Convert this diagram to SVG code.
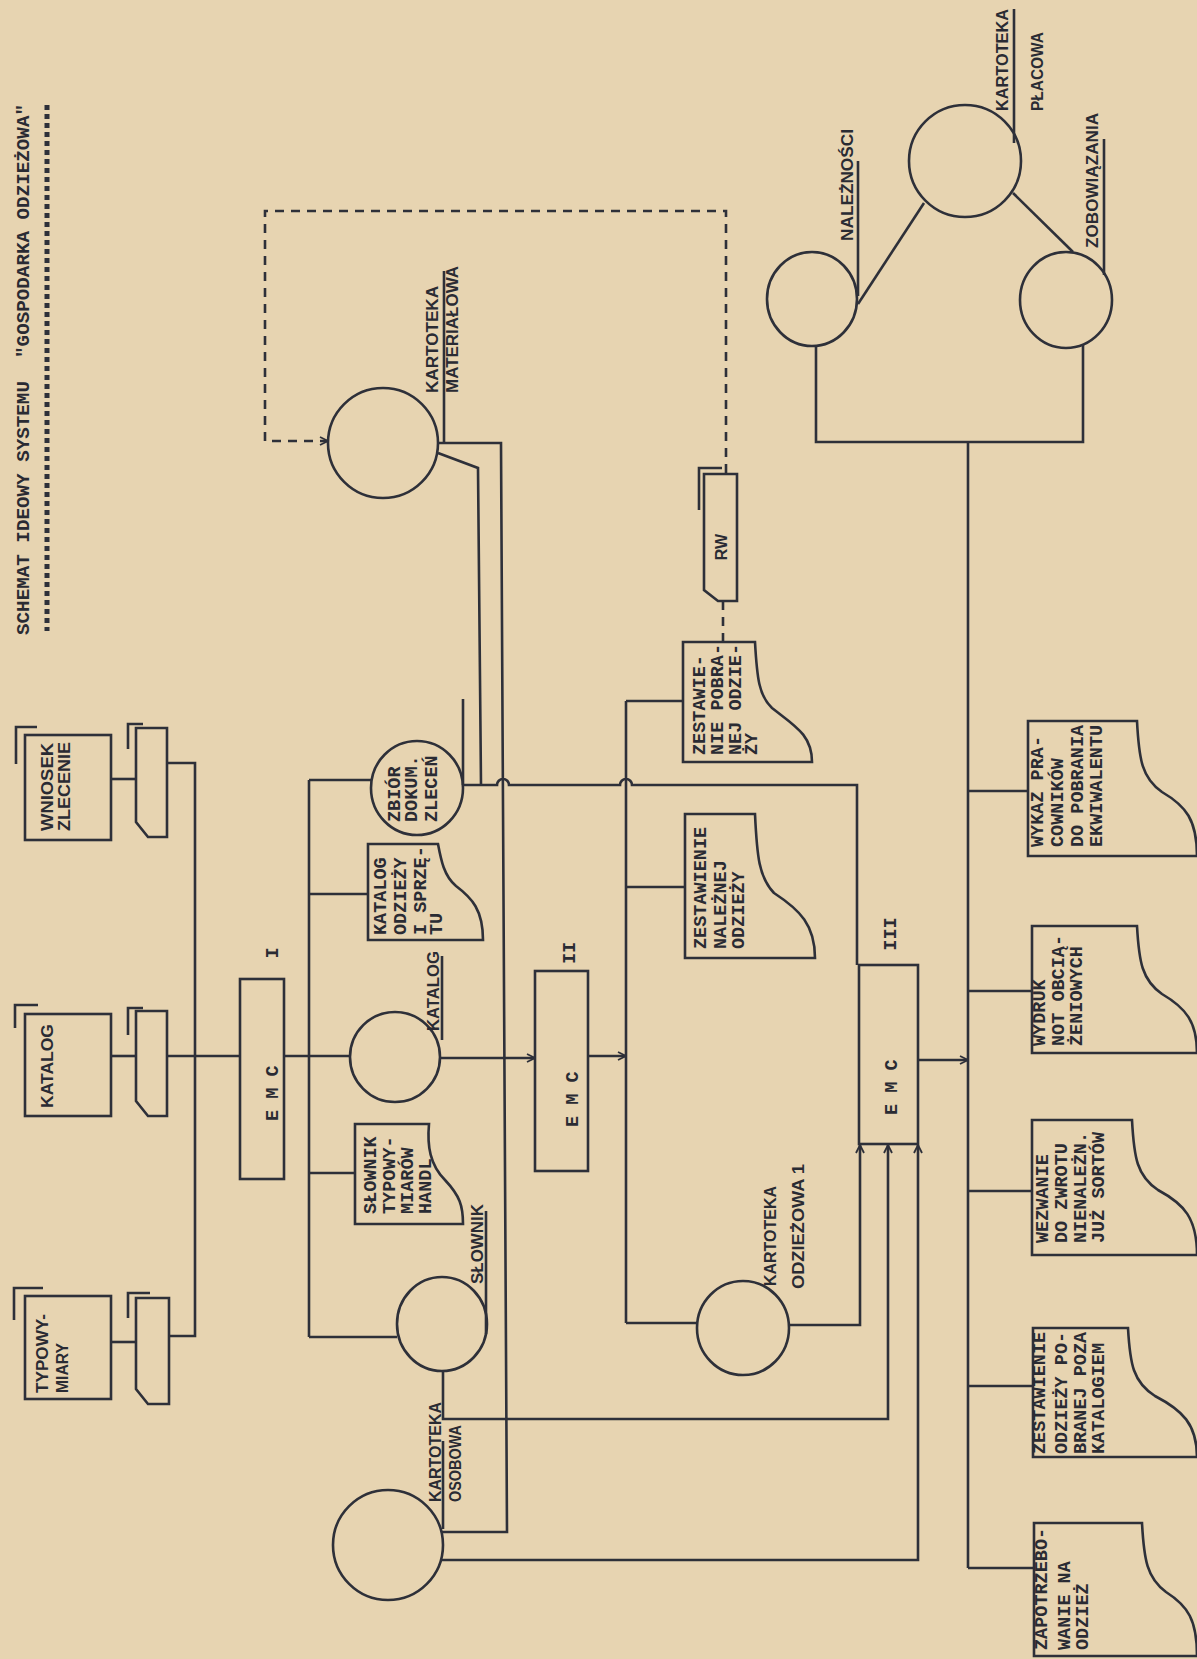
<svg xmlns="http://www.w3.org/2000/svg" width="1197" height="1659" viewBox="0 0 1197 1659">
<style>
.ln{fill:none;stroke:#2e3039;stroke-width:2.6;stroke-linejoin:miter}
.sh{fill:none;stroke:#2e3039;stroke-width:2.6}
.dash{fill:none;stroke:#2e3039;stroke-width:2.6;stroke-dasharray:9 7}
.t{font-family:"Liberation Mono","DejaVu Sans Mono",monospace;font-weight:bold;font-size:18.5px;fill:#2a2b33}
.s{font-family:"Liberation Sans",Arial,sans-serif;font-weight:bold;font-size:16px;fill:#2a2b33}
</style>
<defs>
<marker id="arr" viewBox="0 0 10 10" refX="9" refY="5" markerWidth="10" markerHeight="10" markerUnits="userSpaceOnUse" orient="auto">
<path d="M1,1 L9,5 L1,9" fill="none" stroke="#2e3039" stroke-width="1.8"/>
</marker>
</defs>
<rect width="1197" height="1659" fill="#e7d4b1"/>

<g id="title">
<text class="t" font-size="19" transform="translate(29,635) rotate(-90)" textLength="531" lengthAdjust="spacingAndGlyphs" xml:space="preserve">SCHEMAT IDEOWY SYSTEMU  "GOSPODARKA ODZIEŻOWA"</text>
<line x1="47" y1="105" x2="47" y2="631" stroke="#2e3039" stroke-width="5" stroke-dasharray="5 4"/>
</g>

<g id="connectors">
<path class="ln" d="M111,779 H136"/>
<path class="ln" d="M167,763 H195 V1336 H169"/>
<path class="ln" d="M111,1056 H136"/>
<path class="ln" d="M167,1056 H240"/>
<path class="ln" d="M111,1342 H136"/>
<path class="ln" d="M284,1056 H350"/>
<path class="ln" d="M309,780 V1337"/>
<path class="ln" d="M309,780 H372"/>
<path class="ln" d="M309,894 H368"/>
<path class="ln" d="M309,1173 H355"/>
<path class="ln" d="M309,1337 H397"/>
<path class="ln" d="M440,1058 H535" marker-end="url(#arr)"/>
<path class="ln" d="M588,1056 H626" marker-end="url(#arr)"/>
<path class="ln" d="M626,701 V1323"/>
<path class="ln" d="M626,701 H683"/>
<path class="ln" d="M626,887 H685"/>
<path class="ln" d="M626,1323 H697"/>
<path class="ln" d="M789,1325 H860 V1145" marker-end="url(#arr)"/>
<path class="ln" d="M443,1371 V1419 H888 V1145" marker-end="url(#arr)"/>
<path class="ln" d="M442,1560 H918 V1145" marker-end="url(#arr)"/>
<path class="ln" d="M437,443 H501 L507,1532 H442"/>
<path class="ln" d="M438,453 L478,468 L481,785"/>
<path class="ln" d="M463,699 V785"/>
<path class="ln" d="M463,785 H497 A6,6 0 0 1 509,785 H620 A6,6 0 0 1 632,785 H857 V965"/>
<path class="ln" d="M918,1060 H968" marker-end="url(#arr)"/>
<path class="ln" d="M968,442 V1568"/>
<path class="ln" d="M968,791 H1028"/>
<path class="ln" d="M968,991 H1032"/>
<path class="ln" d="M968,1191 H1032"/>
<path class="ln" d="M968,1386 H1033"/>
<path class="ln" d="M968,1568 H1034"/>
<path class="ln" d="M816,346 V442 H1083 V344"/>
<path class="ln" d="M924,203 L858,304"/>
<path class="ln" d="M1013,193 L1073,252"/>
<path class="dash" d="M726,473 V211 H265 V441 H328" marker-end="url(#arr)"/>
<path class="dash" d="M723,601 V642"/>
</g>

<g id="wniosek">
<rect class="sh" x="25" y="735" width="86" height="105"/>
<path class="ln" d="M16,764 V727 H37"/>
<text class="s" transform="translate(53,831) rotate(-90)" textLength="88" lengthAdjust="spacingAndGlyphs">WNIOSEK</text>
<text class="s" transform="translate(70,831) rotate(-90)" textLength="89" lengthAdjust="spacingAndGlyphs">ZLECENIE</text>
</g>
<g id="card1">
<path class="sh" d="M136,728 H167 V837 H148 L136,822 Z"/>
<path class="ln" d="M128,749 V724 H143"/>
</g>
<g id="katalog-box">
<rect class="sh" x="25" y="1014" width="86" height="102"/>
<path class="ln" d="M15,1028 V1005 H38"/>
<text class="s" transform="translate(53,1108) rotate(-90)" textLength="84" lengthAdjust="spacingAndGlyphs">KATALOG</text>
</g>
<g id="card2">
<path class="sh" d="M136,1011 H167 V1116 H148 L136,1101 Z"/>
<path class="ln" d="M128,1035 V1008 H143"/>
</g>
<g id="typowymiary">
<rect class="sh" x="25" y="1296" width="86" height="103"/>
<path class="ln" d="M14,1320 V1288 H43"/>
<text class="s" transform="translate(48,1393) rotate(-90)" textLength="79" lengthAdjust="spacingAndGlyphs">TYPOWY-</text>
<text class="s" transform="translate(68,1393) rotate(-90)" textLength="50" lengthAdjust="spacingAndGlyphs">MIARY</text>
</g>
<g id="card3">
<path class="sh" d="M136,1298 H169 V1404 H148 L136,1389 Z"/>
<path class="ln" d="M128,1318 V1293 H150"/>
</g>

<g id="emc1">
<rect class="sh" x="240" y="979" width="44" height="200"/>
<text class="t" transform="translate(278,1121) rotate(-90)">E M C</text>
<text class="t" text-anchor="middle" transform="translate(278,953) rotate(-90)">I</text>
</g>
<g id="emc2">
<rect class="sh" x="535" y="971" width="53" height="200"/>
<text class="t" transform="translate(578,1127) rotate(-90)">E M C</text>
<text class="t" text-anchor="middle" transform="translate(575,953) rotate(-90)">II</text>
</g>
<g id="emc3">
<rect class="sh" x="859" y="965" width="59" height="179"/>
<text class="t" transform="translate(897,1115) rotate(-90)">E M C</text>
<text class="t" text-anchor="middle" transform="translate(896,934) rotate(-90)">III</text>
</g>

<g id="kartoteka-materialowa">
<circle class="sh" cx="383" cy="443" r="55"/>
<path class="ln" d="M444,271 V443"/>
<text class="s" transform="translate(438,393) rotate(-90)" textLength="107" lengthAdjust="spacingAndGlyphs">KARTOTEKA</text>
<text class="s" transform="translate(458,393) rotate(-90)" textLength="127" lengthAdjust="spacingAndGlyphs">MATERIAŁOWA</text>
</g>
<g id="zbior">
<ellipse class="sh" cx="417" cy="788" rx="46" ry="47"/>
<text class="t" transform="translate(400,822) rotate(-90)">ZBIÓR</text>
<text class="t" transform="translate(417,822) rotate(-90)">DOKUM.</text>
<text class="t" transform="translate(437,822) rotate(-90)">ZLECEŃ</text>
</g>
<g id="katalog-odziezy">
<path class="sh" d="M368,844 H438 C441,860 444,876 456,886 C472,898 483,910 483,940 H368 Z"/>
<text class="t" font-size="17.5" transform="translate(386,935) rotate(-90)">KATALOG</text>
<text class="t" font-size="17.5" transform="translate(406,935) rotate(-90)">ODZIEŻY</text>
<text class="t" font-size="17.5" transform="translate(426,935) rotate(-90)">I SPRZĘ-</text>
<text class="t" font-size="17.5" transform="translate(442,935) rotate(-90)">TU</text>
</g>
<g id="katalog-circle">
<circle class="sh" cx="395" cy="1057" r="45"/>
<path class="ln" d="M442,956 V1040"/>
<text class="s" transform="translate(439,1031) rotate(-90)" textLength="80" lengthAdjust="spacingAndGlyphs">KATALOG</text>
</g>
<g id="slownik-typowymiarow">
<path class="sh" d="M355,1124 H429 C427,1146 430,1165 445,1180 C460,1196 463,1206 463,1224 H355 Z"/>
<text class="t" transform="translate(376,1214) rotate(-90)">SŁOWNIK</text>
<text class="t" transform="translate(395,1214) rotate(-90)">TYPOWY-</text>
<text class="t" transform="translate(413,1214) rotate(-90)">MIARÓW</text>
<text class="t" transform="translate(431,1214) rotate(-90)">HANDL</text>
</g>
<g id="slownik">
<ellipse class="sh" cx="442" cy="1324" rx="45" ry="47"/>
<path class="ln" d="M486,1211 V1334"/>
<text class="s" transform="translate(483,1284) rotate(-90)" textLength="80" lengthAdjust="spacingAndGlyphs">SŁOWNIK</text>
</g>
<g id="kartoteka-osobowa">
<circle class="sh" cx="388" cy="1545" r="55"/>
<path class="ln" d="M443,1441 V1529"/>
<text class="s" transform="translate(441,1502) rotate(-90)" textLength="100" lengthAdjust="spacingAndGlyphs">KARTOTEKA</text>
<text class="s" transform="translate(461,1502) rotate(-90)" textLength="77" lengthAdjust="spacingAndGlyphs">OSOBOWA</text>
</g>

<g id="rw">
<path class="sh" d="M704,474 H737 V601 H718 L704,590 Z"/>
<path class="ln" d="M699,510 V468 H722"/>
<text class="s" font-size="14" text-anchor="middle" transform="translate(727,547) rotate(-90)">RW</text>
</g>
<g id="zestawienie-pobranej">
<path class="sh" d="M683,642 H755 C757,678 759,696 772,708 C795,726 812,735 812,762 H683 Z"/>
<text class="t" transform="translate(705,755) rotate(-90)">ZESTAWIE-</text>
<text class="t" transform="translate(723,755) rotate(-90)">NIE POBRA-</text>
<text class="t" transform="translate(741,755) rotate(-90)">NEJ ODZIE-</text>
<text class="t" transform="translate(757,755) rotate(-90)">ŻY</text>
</g>
<g id="zestawienie-naleznej">
<path class="sh" d="M685,814 H755 C757,857 759,877 774,893 C800,910 815,925 815,958 H685 Z"/>
<text class="t" transform="translate(706,949) rotate(-90)">ZESTAWIENIE</text>
<text class="t" transform="translate(726,949) rotate(-90)">NALEŻNEJ</text>
<text class="t" transform="translate(744,949) rotate(-90)">ODZIEŻY</text>
</g>
<g id="kartoteka-odziezowa">
<ellipse class="sh" cx="743" cy="1328" rx="46" ry="47"/>
<text class="s" transform="translate(776,1286) rotate(-90)" textLength="100" lengthAdjust="spacingAndGlyphs">KARTOTEKA</text>
<text class="s" transform="translate(804,1289) rotate(-90)" textLength="125" lengthAdjust="spacingAndGlyphs">ODZIEŻOWA 1</text>
</g>

<g id="kartoteka-placowa">
<circle class="sh" cx="965" cy="161" r="56"/>
<path class="ln" d="M1014,9 V143"/>
<text class="s" transform="translate(1008,111) rotate(-90)" textLength="102" lengthAdjust="spacingAndGlyphs">KARTOTEKA</text>
<text class="s" transform="translate(1043,111) rotate(-90)" textLength="79" lengthAdjust="spacingAndGlyphs">PŁACOWA</text>
</g>
<g id="naleznosci">
<ellipse class="sh" cx="812" cy="299" rx="45" ry="47"/>
<path class="ln" d="M858,161 V296"/>
<text class="s" transform="translate(853,241) rotate(-90)" textLength="112" lengthAdjust="spacingAndGlyphs">NALEŻNOŚCI</text>
</g>
<g id="zobowiazania">
<ellipse class="sh" cx="1066" cy="300" rx="46" ry="48"/>
<path class="ln" d="M1104,139 V275"/>
<text class="s" transform="translate(1098,248) rotate(-90)" textLength="135" lengthAdjust="spacingAndGlyphs">ZOBOWIĄZANIA</text>
</g>

<g id="wykaz">
<path class="sh" d="M1028,721 H1137 C1139,760 1142,778 1162,792 C1186,806 1197,820 1197,856 H1028 Z"/>
<text class="t" transform="translate(1043,847) rotate(-90)">WYKAZ PRA-</text>
<text class="t" transform="translate(1063,847) rotate(-90)">COWNIKÓW</text>
<text class="t" transform="translate(1083,847) rotate(-90)">DO POBRANIA</text>
<text class="t" transform="translate(1102,847) rotate(-90)">EKWIWALENTU</text>
</g>
<g id="wydruk">
<path class="sh" d="M1032,926 H1137 C1139,962 1142,980 1162,994 C1186,1008 1197,1022 1197,1053 H1032 Z"/>
<text class="t" transform="translate(1045,1046) rotate(-90)">WYDRUK</text>
<text class="t" transform="translate(1064,1046) rotate(-90)">NOT OBCIĄ-</text>
<text class="t" transform="translate(1082,1046) rotate(-90)">ŻENIOWYCH</text>
</g>
<g id="wezwanie">
<path class="sh" d="M1032,1120 H1132 C1134,1158 1137,1176 1158,1190 C1184,1204 1197,1218 1197,1255 H1032 Z"/>
<text class="t" transform="translate(1048,1243) rotate(-90)">WEZWANIE</text>
<text class="t" transform="translate(1067,1243) rotate(-90)">DO ZWROTU</text>
<text class="t" transform="translate(1086,1243) rotate(-90)">NIENALEŻN.</text>
<text class="t" transform="translate(1104,1243) rotate(-90)">JUŻ SORTÓW</text>
</g>
<g id="zestawienie-poza">
<path class="sh" d="M1033,1328 H1128 C1130,1364 1133,1382 1155,1396 C1182,1410 1197,1424 1197,1457 H1033 Z"/>
<text class="t" transform="translate(1045,1454) rotate(-90)">ZESTAWIENIE</text>
<text class="t" transform="translate(1067,1454) rotate(-90)">ODZIEŻY PO-</text>
<text class="t" transform="translate(1086,1454) rotate(-90)">BRANEJ POZA</text>
<text class="t" transform="translate(1104,1454) rotate(-90)">KATALOGIEM</text>
</g>
<g id="zapotrzebowanie">
<path class="sh" d="M1034,1523 H1142 C1144,1560 1147,1578 1166,1592 C1188,1606 1197,1620 1197,1656 H1034 Z"/>
<text class="t" transform="translate(1047,1650) rotate(-90)">ZAPOTRZEBO-</text>
<text class="t" transform="translate(1070,1650) rotate(-90)">WANIE NA</text>
<text class="t" transform="translate(1088,1650) rotate(-90)">ODZIEŻ</text>
</g>
</svg>
